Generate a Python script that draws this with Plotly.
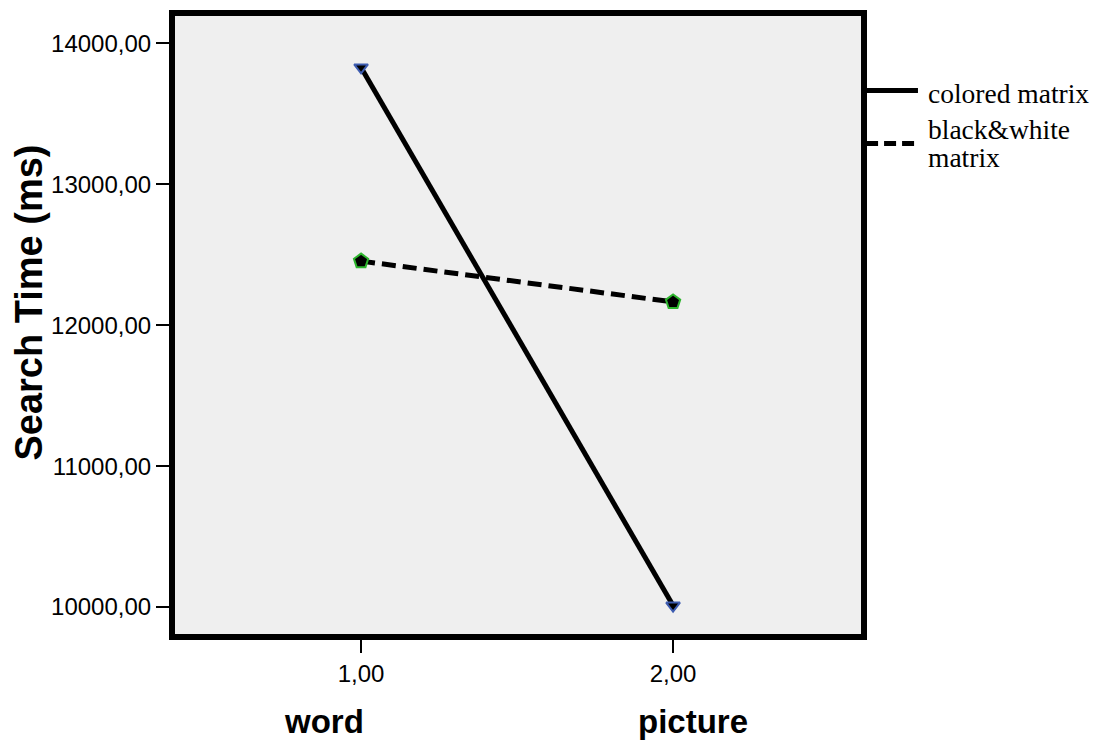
import plotly.graph_objects as go

x_vals = [1, 2]
x_tick_labels = ["1,00", "2,00"]
categories = ["word", "picture"]
colored = [13830, 10010]
bw = [12455, 12165]
y_ticks = [10000, 11000, 12000, 13000, 14000]
y_tick_labels = ["10000,00", "11000,00", "12000,00", "13000,00", "14000,00"]
legend_lines = ["colored matrix", "black&white", "matrix"]

fig = go.Figure()
fig.add_trace(go.Scatter(
    x=x_vals, y=colored, mode="lines+markers", name="colored matrix",
    line=dict(color="black", width=5),
    marker=dict(symbol="triangle-down", size=12, color="black",
                line=dict(color="#3d5cb0", width=2)),
    showlegend=False))
fig.add_trace(go.Scatter(
    x=x_vals, y=bw, mode="lines+markers", name="black&white matrix",
    line=dict(color="black", width=5, dash="14px,7px"),
    marker=dict(symbol="pentagon", size=15, color="black",
                line=dict(color="#2db52d", width=2)),
    showlegend=False))

# frame
fig.add_shape(type="rect", xref="paper", yref="paper", x0=0, x1=1, y0=0, y1=1,
              line=dict(color="black", width=6), layer="above")

# custom legend
leg_y = [0.876, 0.791]
dashes = ["solid", "12px,6px"]
for yy, d in zip(leg_y, dashes):
    fig.add_shape(type="line", xref="paper", yref="paper", x0=1.003, x1=1.078,
                  y0=yy, y1=yy, line=dict(color="black", width=5, dash=d))
for txt, yy in zip(legend_lines, [0.871, 0.813, 0.768]):
    fig.add_annotation(xref="paper", yref="paper", x=1.090, y=yy, text=txt,
                       showarrow=False, xanchor="left", yanchor="middle",
                       font=dict(family="Liberation Serif", size=27.5, color="black"))

# category labels (offset as in the reference)
for xv, c, sh in zip(x_vals, categories, [-37, 20]):
    fig.add_annotation(xref="x", yref="paper", x=xv, y=-0.136, text=c, showarrow=False,
                       xanchor="center", yanchor="middle", xshift=sh,
                       font=dict(family="Liberation Sans", size=33, color="black", weight="bold"))

# y title
fig.add_annotation(xref="paper", yref="paper", x=-0.208, y=0.536, text="Search Time (ms)",
                   showarrow=False, textangle=-90, xanchor="center", yanchor="middle",
                   font=dict(family="Liberation Sans", size=38, color="black", weight="bold"))

fig.update_layout(
    width=1101, height=740,
    margin=dict(l=164, r=245, t=4.5, b=111),
    plot_bgcolor="#efefef", paper_bgcolor="white",
    font=dict(family="Liberation Sans", size=24, color="black"),
    xaxis=dict(range=[0.394, 2.612], tickvals=x_vals, ticktext=x_tick_labels,
               ticks="outside", ticklen=15, tickwidth=2, tickcolor="black",
               showgrid=False, zeroline=False, showline=False,
               tickfont=dict(size=24)),
    yaxis=dict(range=[9787, 14216], tickvals=y_ticks, ticktext=y_tick_labels,
               ticks="outside", ticklen=15, tickwidth=2, tickcolor="black",
               showgrid=False, zeroline=False, showline=False,
               tickfont=dict(size=24)),
)

fig.write_html("out.html")
